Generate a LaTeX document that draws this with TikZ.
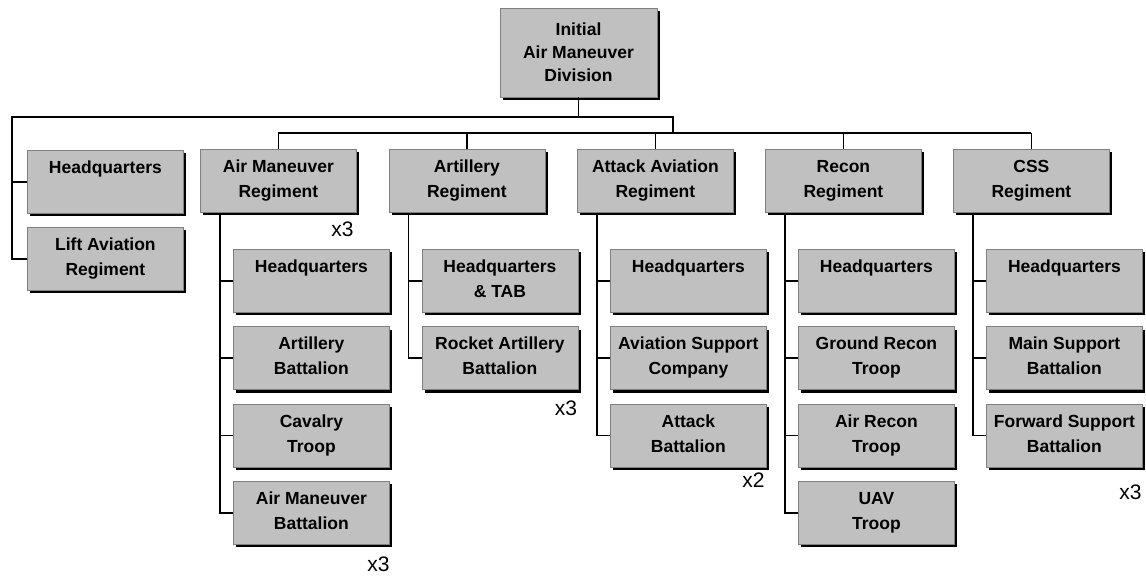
\documentclass[tikz,border=0pt]{standalone}
\usepackage{fontspec}
\setmainfont{Liberation Sans}
\usepackage{xcolor}
\definecolor{Box-fill}{RGB}{192,192,192}
\definecolor{Box-edge}{RGB}{128,128,128}
\usetikzlibrary{shadows,positioning,calc}

\begin{document}
\begin{tikzpicture} [
    x=1pt, y=-1pt,
    plainbox/.style = {rectangle,draw=Box-edge,line width=0.8pt,fill=Box-fill,inner sep=0,
        drop shadow={shadow xshift=3pt,shadow yshift=-3pt,fill=black,opacity=1}},
    unitbox/.style = {plainbox,anchor=north west,minimum width=156,minimum height=63,
        font=\bfseries\fontsize{17.5}{25}\selectfont,
        execute at begin node={\begin{minipage}[c][63pt][t]{156pt}\centering\rule{0pt}{23pt}},
        execute at end node={\end{minipage}}},
    divbox/.style = {plainbox,align=center,minimum width=157,minimum height=89,
        font=\bfseries\fontsize{17.5}{23}\selectfont},
    multlabel/.style = {anchor=base east,inner sep=0,font=\fontsize{21}{24}\selectfont},
    conn/.style = {draw=black,line width=1.8pt}
    ]

    \useasboundingbox (0,0) rectangle (1146,578);

    \def \rxarray{{200, 388.5, 577, 765, 953}}
    \def \syarray{{249, 326.3, 403.6, 481}}

    \node (div) [divbox] at (578.5, 52.5) {Initial\\Air Maneuver\\Division};

    \node (hq) [unitbox] at (27, 150) {Headquarters};
    \node (lift) [unitbox] at (27, 227) {Lift Aviation\\Regiment};

    \node (r1) [unitbox] at (\rxarray[0], 149) {Air Maneuver\\Regiment};
    \node (r2) [unitbox] at (\rxarray[1], 149) {Artillery\\Regiment};
    \node (r3) [unitbox] at (\rxarray[2], 149) {Attack Aviation\\Regiment};
    \node (r4) [unitbox] at (\rxarray[3], 149) {Recon\\Regiment};
    \node (r5) [unitbox] at (\rxarray[4], 149) {CSS\\Regiment};

    \node (a1) [unitbox] at (\rxarray[0]+33, \syarray[0]) {Headquarters};
    \node (a2) [unitbox] at (\rxarray[0]+33, \syarray[1]) {Artillery\\Battalion};
    \node (a3) [unitbox] at (\rxarray[0]+33, \syarray[2]) {Cavalry\\Troop};
    \node (a4) [unitbox] at (\rxarray[0]+33, \syarray[3]) {Air Maneuver\\Battalion};

    \node (b1) [unitbox] at (\rxarray[1]+33, \syarray[0]) {Headquarters\\\& TAB};
    \node (b2) [unitbox] at (\rxarray[1]+33, \syarray[1]) {Rocket Artillery\\Battalion};

    \node (c1) [unitbox] at (\rxarray[2]+33, \syarray[0]) {Headquarters};
    \node (c2) [unitbox] at (\rxarray[2]+33, \syarray[1]) {Aviation Support\\Company};
    \node (c3) [unitbox] at (\rxarray[2]+33, \syarray[2]) {Attack\\Battalion};

    \node (d1) [unitbox] at (\rxarray[3]+33, \syarray[0]) {Headquarters};
    \node (d2) [unitbox] at (\rxarray[3]+33, \syarray[1]) {Ground Recon\\Troop};
    \node (d3) [unitbox] at (\rxarray[3]+33, \syarray[2]) {Air Recon\\Troop};
    \node (d4) [unitbox] at (\rxarray[3]+33, \syarray[3]) {UAV\\Troop};

    \node (e1) [unitbox] at (\rxarray[4]+33, \syarray[0]) {Headquarters};
    \node (e2) [unitbox] at (\rxarray[4]+33, \syarray[1]) {Main Support\\Battalion};
    \node (e3) [unitbox] at (\rxarray[4]+33, \syarray[2]) {Forward Support\\Battalion};

    % multipliers
    \node (m1) [multlabel] at ($(r1.south east)+(-3,24)$) {x3};
    \node (m2) [multlabel] at ($(a4.south east)+(0,27)$) {x3};
    \node (m3) [multlabel] at ($(b2.south east)+(-1,25)$) {x3};
    \node (m4) [multlabel] at ($(c3.south east)+(-2,20)$) {x2};
    \node (m5) [multlabel] at ($(e3.south east)+(-1,32)$) {x3};

    \coordinate (busl) at (12, 117);
    \coordinate (busr) at (673, 117);
    \coordinate (bus) at (673, 133);

    \draw[conn] (div) -- (div |- busr);
    \draw[conn] (lift.west) -| (busl) -- (busr) -- (bus);
    \draw[conn] (hq.west) -- (hq.west -| busl);
    \draw[conn] (r1.north |- bus) -- (r5.north |- bus);

    \foreach \i in {1,...,5}
        \draw[conn] (r\i.north |- bus) -- (r\i.north);

    \foreach \r/\s/\n in {1/a/4, 2/b/2, 3/c/3, 4/d/4, 5/e/3}
        {
            \coordinate (stem\r) at ([xshift=20pt]r\r.south west);
            \draw[conn] (stem\r) |- (\s\n.west);
            \foreach \j in {1,...,\n}
                \draw[conn] (\s\j.west) -- (\s\j.west -| stem\r);
        }

\end{tikzpicture}
\end{document}
